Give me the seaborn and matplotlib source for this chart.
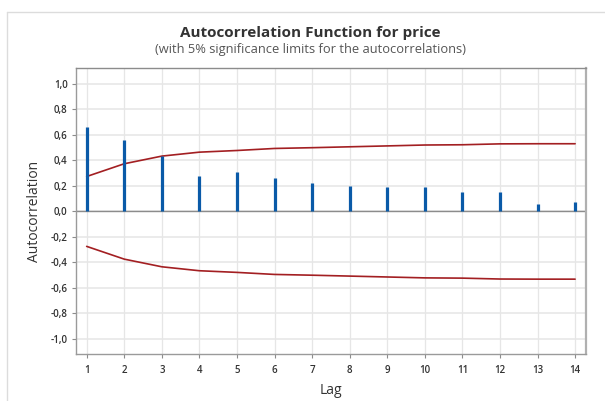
import matplotlib
matplotlib.use("Agg")
import matplotlib.pyplot as plt
import seaborn as sns
import pandas as pd
from matplotlib.lines import Line2D

lags = [1, 2, 3, 4, 5, 6, 7, 8, 9, 10, 11, 12, 13, 14]
acf = [0.666, 0.562, 0.431, 0.280, 0.306, 0.259, 0.225, 0.201, 0.194, 0.192, 0.152, 0.156, 0.060, 0.078]
upper = [0.274, 0.374, 0.434, 0.465, 0.478, 0.494, 0.500, 0.507, 0.514, 0.521, 0.523, 0.530, 0.531, 0.531]
lower = [-u for u in upper]
yticks = [-1.0, -0.8, -0.6, -0.4, -0.2, 0.0, 0.2, 0.4, 0.6, 0.8, 1.0]
ytick_labels = ["-1,0", "-0,8", "-0,6", "-0,4", "-0,2", "0,0", "0,2", "0,4", "0,6", "0,8", "1,0"]

sns.set_theme(style="white")
plt.rcParams['font.family'] = ['Open Sans', 'DejaVu Sans']

fig = plt.figure(figsize=(6.05, 4.01), dpi=100)
ax = fig.add_axes([76/605, 1 - 354/401, (586-76)/605, (354-68)/401])

df = pd.DataFrame({"Lag": lags, "ACF": acf, "Upper": upper, "Lower": lower})

ax.set_xlim(0.716, 14.29)
ax.set_ylim(-1.118, 1.125)

# grid
for x in lags:
    ax.axvline(x, color="#e6e6e6", lw=0.9, zorder=0)
for y in yticks:
    ax.axhline(y, color="#e6e6e6", lw=1.1, zorder=0)
ax.axhline(0, color="#8c8c8c", lw=1.0, zorder=1)

sns.lineplot(data=df, x="Lag", y="Upper", color="#a31f22", lw=1.2, ax=ax, zorder=3)
sns.lineplot(data=df, x="Lag", y="Lower", color="#a31f22", lw=1.2, ax=ax, zorder=3)
ax.vlines(df["Lag"], 0, df["ACF"], color="#0a5aa8", lw=2.3, zorder=4)

ax.set_xticks(lags)
ax.set_xticklabels([str(l) for l in lags], fontweight="semibold")
ax.set_yticks(yticks)
ax.set_yticklabels(ytick_labels, fontweight="semibold")
ax.tick_params(axis="both", which="major", length=3, width=0.8, color="#8c8c8c",
               labelsize=7, labelcolor="#333333", pad=3, direction="out")
ax.tick_params(axis="x", pad=5)
ax.tick_params(left=True, bottom=True)

for side in ["left", "bottom"]:
    ax.spines[side].set_color("#9a9a9a")
    ax.spines[side].set_linewidth(1.0)
ax.spines["top"].set_color("#8c8c8c")
ax.spines["top"].set_linewidth(1.0)
ax.spines["right"].set_color("#b0b0b0")
ax.spines["right"].set_linewidth(1.6)

ax.set_xlabel("Lag", fontsize=10, color="#333333", labelpad=5, fontweight="medium")
ax.set_ylabel("Autocorrelation", fontsize=10, color="#333333", labelpad=6, fontweight="medium")

fig.text(310.5/605, 1 - 33/401, "Autocorrelation Function for price", ha="center", va="center",
         fontsize=11, fontweight="bold", color="#333333")
fig.text(310.5/605, 1 - 50/401, "(with 5% significance limits for the autocorrelations)",
         ha="center", va="center", fontsize=9.3, color="#555555")

# outer frame lines
fig.add_artist(Line2D([7/605, 1.0], [1 - 12/401, 1 - 12/401], transform=fig.transFigure,
                      color="#dcdcdc", lw=1.0))
fig.add_artist(Line2D([7/605, 7/605], [0.0, 1 - 12/401], transform=fig.transFigure,
                      color="#dcdcdc", lw=1.0))

fig.savefig("out.png", dpi=100)
